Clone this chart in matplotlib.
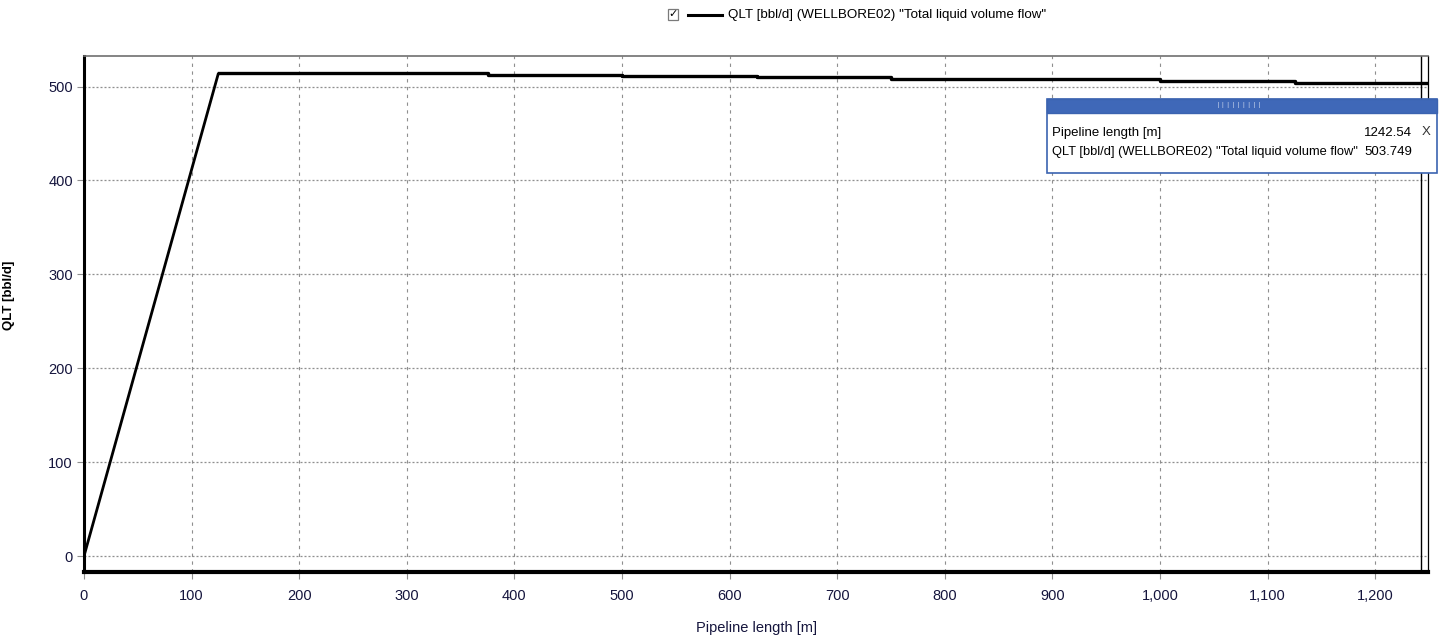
import matplotlib

matplotlib.use("Agg")
import matplotlib.pyplot as plt
from matplotlib.lines import Line2D
from matplotlib.patches import Rectangle
from matplotlib.ticker import FuncFormatter

# pipeline profile: ramp to first level, then stepwise decline
length_m = [0, 125, 375, 500, 625, 750, 1000, 1125, 1250]
qlt_bbl_d = [0, 514.5, 512.6, 511.2, 509.7, 507.6, 505.5, 503.7, 503.7]

x_ticks = [0, 100, 200, 300, 400, 500, 600, 700, 800, 900, 1000, 1100, 1200]
y_ticks = [0, 100, 200, 300, 400, 500]

cursor_x = 1242.54
cursor_y = 503.749
series_name = 'QLT [bbl/d] (WELLBORE02) "Total liquid volume flow"'

TICK_COLOR = "#15153d"
GRID_COLOR = "#8f8f8f"

plt.rcParams["font.family"] = ["Liberation Sans", "DejaVu Sans"]

fig = plt.figure(figsize=(14.43, 6.41), dpi=100)
ax = fig.add_axes([84 / 1443, 69 / 641, 1344 / 1443, 516 / 641])

ax.plot(length_m[:2], qlt_bbl_d[:2], color="black", lw=2.0, solid_capstyle="butt")
ax.step(length_m[1:], qlt_bbl_d[1:], where="post", color="black", lw=2.4)
ax.axvline(cursor_x, color="black", lw=1.0)

ax.set_xlim(0, 1249)
ax.set_ylim(-17, 532.5)
ax.set_xticks(x_ticks)
ax.set_yticks(y_ticks)
ax.xaxis.set_major_formatter(FuncFormatter(lambda v, _: f"{int(v):,}"))

ax.grid(axis="x", color=GRID_COLOR, lw=0.8, linestyle=(0, (3, 4)))
ax.grid(axis="y", color=GRID_COLOR, lw=0.9, linestyle=(0, (1.6, 1.6)))

ax.tick_params(axis="both", direction="out", length=5, width=0.8, color=GRID_COLOR,
               labelsize=10.5, labelcolor=TICK_COLOR)
ax.tick_params(axis="x", pad=7)
ax.tick_params(axis="y", pad=3)

ax.spines["left"].set_linewidth(2.2)
ax.spines["left"].set_color("black")
ax.spines["bottom"].set_linewidth(3.0)
ax.spines["bottom"].set_color("black")
ax.spines["top"].set_linewidth(1.2)
ax.spines["top"].set_color("#707070")
ax.spines["right"].set_linewidth(0.9)
ax.spines["right"].set_color("black")

ax.set_xlabel("Pipeline length [m]", fontsize=10.5, color=TICK_COLOR)
ax.xaxis.set_label_coords(0.5, -0.095)
ax.set_ylabel("QLT [bbl/d]", fontsize=9.5, fontweight="bold", color="black")
ax.yaxis.set_label_coords(-0.051, 0.536)


def fx(px):
    return px / 1443


def fy(py):
    return 1 - py / 641


# legend at the top
fig.patches.append(Rectangle((fx(668), fy(20)), 10 / 1443, 11 / 641, transform=fig.transFigure,
                             facecolor="white", edgecolor="#7a7a7a", lw=0.9))
fig.text(fx(673), fy(14.5), "\u2713", ha="center", va="center", fontsize=8, color="black",
         family=["DejaVu Sans"], fontweight="bold")
fig.lines.append(Line2D([fx(688), fx(722)], [fy(15), fy(15)], transform=fig.transFigure,
                        color="black", lw=2.2))
fig.text(fx(728), fy(15), series_name, ha="left", va="center", fontsize=9.6, color="black")

# cursor readout box
box_l, box_r, box_t, box_b = 1047, 1437, 99, 173
fig.patches.append(Rectangle((fx(box_l), fy(box_b)), (box_r - box_l) / 1443, (box_b - box_t) / 641,
                             transform=fig.transFigure, facecolor="white", edgecolor="#3b63b0",
                             lw=1.2, zorder=5))
fig.patches.append(Rectangle((fx(box_l), fy(113)), (box_r - box_l) / 1443, 14 / 641,
                             transform=fig.transFigure, facecolor="#3f68b8", edgecolor="#3b63b0",
                             lw=1.0, zorder=6))
fig.text(fx(1239), fy(105.5), "\u2758" * 9, ha="center", va="center", fontsize=4.5,
         color="#dfe6f5", family=["DejaVu Sans"], zorder=7)
fig.text(fx(1052), fy(133), "Pipeline length [m]", ha="left", va="center", fontsize=9.5,
         color="black", zorder=7)
fig.text(fx(1412), fy(133), f"{cursor_x:.2f}", ha="right", va="center", fontsize=9.5,
         color="black", zorder=7)
fig.text(fx(1426), fy(132), "X", ha="center", va="center", fontsize=9.5, color="#333333", zorder=7)
fig.text(fx(1052), fy(152), series_name, ha="left", va="center", fontsize=9.3, color="black", zorder=7)
fig.text(fx(1412), fy(152), f"{cursor_y:.3f}", ha="right", va="center", fontsize=9.5,
         color="black", zorder=7)

fig.savefig("out.png", dpi=100, facecolor="white")
